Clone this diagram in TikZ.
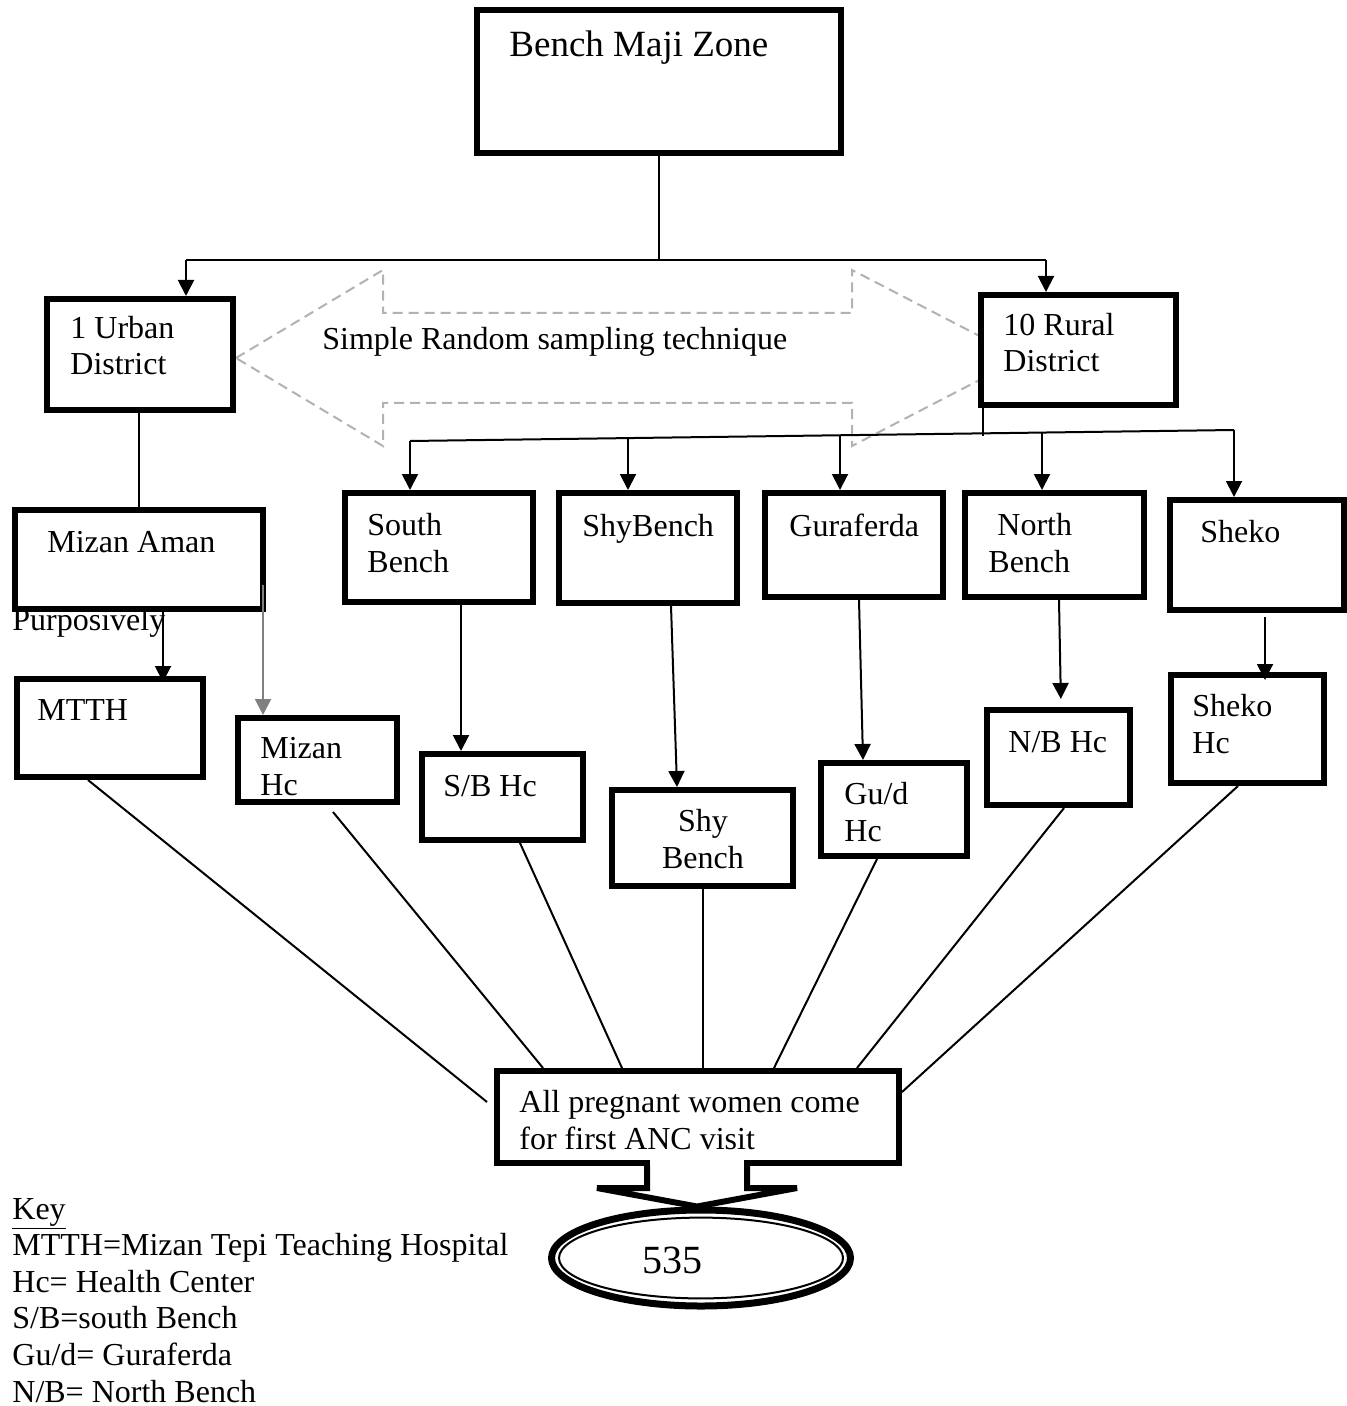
\documentclass[tikz,border=0pt]{standalone}
\usepackage{fontspec}
\setmainfont{Liberation Serif}
\usetikzlibrary{arrows.meta,shapes.geometric}
\newcommand\mybox[5]{\node[box,minimum width={(#4-#2)*0.5pt},minimum height={(#5-#3)*0.5pt}] (#1) at ({(#2+#4)/2},{(#3+#5)/2}) {};}
\begin{document}
\begin{tikzpicture}[x=0.5pt,y=-0.5pt,
  box/.style={draw,line width=3pt,fill=white,inner sep=0pt,rectangle},
  txt/.style={font=\fontsize{16}{18.3}\selectfont,inner sep=0pt,align=left,anchor=base west},
  conn/.style={line width=1pt},
  arr/.style={conn,-{Triangle[width=8pt,length=8pt]}},
  garr/.style={line width=1pt,draw=gray,-{Triangle[width=8pt,length=8pt,fill=gray]}},
  dasharrow/.style={draw=gray!60,line width=1pt,dash pattern=on 5pt off 3pt}
]
\useasboundingbox[fill=white] (0,0) rectangle (1347,1406);

% dashed double arrow (background)
\draw[dasharrow] (236,358) -- (383,270) -- (383,313) -- (852,313) -- (852,270) -- (1022,358)
  -- (852,446) -- (852,403) -- (383,403) -- (383,446) -- cycle;

% text partly hidden by the Mizan Aman box
\node[txt] (purpT) at (12,630) {Purposively};

% boxes
\mybox{zone}{477}{10}{841}{153}
\mybox{urban}{47}{299}{233}{410}
\mybox{rural}{981}{295}{1176}{405}
\mybox{mizan}{15}{510}{263}{609}
\mybox{south}{345}{493}{533}{602}
\mybox{shyb}{559}{493}{737}{603}
\mybox{gura}{765}{493}{943}{597}
\mybox{north}{965}{493}{1144}{597}
\mybox{sheko}{1170}{500}{1344}{610}
\mybox{mtth}{17}{679}{203}{777}
\mybox{mizhc}{238}{718}{397}{802}
\mybox{sbhc}{422}{754}{583}{840}
\mybox{shyhc}{612}{790}{793}{886}
\mybox{guhc}{821}{763}{967}{856}
\mybox{nbhc}{987}{710}{1130}{805}
\mybox{shekohc}{1171}{675}{1324}{783}
\mybox{all}{497}{1071}{899}{1163}

% ellipse 535
\node[ellipse,draw,line width=3.5pt,fill=white,inner sep=0pt,
      minimum width=149.5pt,minimum height=48pt] (e535) at (701,1258) {};
\draw[line width=1pt] (e535.center) ellipse [x radius=71pt, y radius=20.2pt];

% pointer from the ANC box to the ellipse
\fill[white] (650,1156) rectangle (744,1170);
\draw[line width=3pt,fill=white,line join=miter]
  (all.south -| 647,0) -- (647,1188) -- (597,1188) -- (e535.north -| 697,0) -- (797,1188) -- (747,1188) -- (all.south -| 747,0);

% texts (base anchor = baseline of the last line)
\node[txt,font=\fontsize{18.5}{21}\selectfont] (zoneT) at (509,57) {Bench Maji Zone};
\node[txt] (srsT) at (322,350) {Simple Random sampling technique};
\node[txt] (urbanT) at (70,375) {1 Urban\\District};
\node[txt] (ruralT) at (1003,372) {10 Rural\\District};
\node[txt] (mizanT) at (47,552) {Mizan Aman};
\node[txt] (southT) at (367,572) {South\\Bench};
\node[txt] (shybT) at (582,536) {ShyBench};
\node[txt] (guraT) at (789,536) {Guraferda};
\node[txt] (northT) at (988,572) {\hspace*{4.5pt}North\\Bench};
\node[txt] (shekoT) at (1200,542) {Sheko};
\node[txt] (mtthT) at (37,720) {MTTH};
\node[txt] (mizhcT) at (260,795) {Mizan\\Hc};
\node[txt] (sbhcT) at (443,796) {S/B Hc};
\node[txt,align=center,anchor=base] (shyhcT) at (703,868) {Shy\\Bench};
\node[txt] (guhcT) at (844,841) {Gu/d\\Hc};
\node[txt] (nbhcT) at (1008,752) {N/B Hc};
\node[txt] (shekohcT) at (1192,753) {Sheko\\Hc};
\node[txt] (allT) at (519,1149) {All pregnant women come\\for first ANC visit};
\node[font=\fontsize{20}{24}\selectfont,inner sep=0pt,anchor=base] (n535) at (672,1273) {535};
\node[txt] (keyT) at (12,1402) {\underline{Key}\\MTTH=Mizan Tepi Teaching Hospital\\Hc= Health Center\\S/B=south Bench\\Gu/d= Guraferda\\N/B= North Bench};

% top connectors
\coordinate (jL) at (186,260);
\coordinate (jR) at (1046,260);
\draw[conn] (zone.south) -- (zone.south |- jL);
\draw[conn] (jL) -- (jR);
\draw[arr] (jL) -- (jL |- urban.north);
\draw[arr] (jR) -- (jR |- rural.north);

% rural hub
\coordinate (hL) at (410,441);
\coordinate (hR) at (1234,430);
\draw[conn] (rural.south -| 983,0) -- (983,436.5);
\draw[conn] (hL) -- (hR);
\draw[arr] (hL) -- (hL |- south.north);
\draw[arr] (628,438.1) -- (shyb.north -| 628,0);
\draw[arr] (840,435.3) -- (gura.north -| 840,0);
\draw[arr] (1042,432.6) -- (north.north -| 1042,0);
\draw[arr] (hR) -- (hR |- sheko.north);

% urban side
\draw[conn] (urban.south -| 139,0) -- (mizan.north -| 139,0);
\draw[arr,shorten >=-3pt] (mizan.south -| 163,0) -- (mtth.north -| 163,0);
\draw[garr] (263,585) -- (mizhc.north -| 263,0);

% district to health center
\draw[arr] (south.south -| 461,0) -- (sbhc.north -| 461,0);
\draw[arr] (shyb.south -| 671,0) -- (shyhc.north -| 677,0);
\draw[arr] (gura.south -| 859,0) -- (guhc.north -| 863,0);
\draw[arr,shorten >=4pt] (north.south -| 1059,0) -- (nbhc.north -| 1061,0);
\draw[arr,shorten >=-4pt] (1265,617) -- (shekohc.north -| 1265,0);

% health centers to ANC box
\draw[conn] (mtth.south -| 88,0) -- (487,1102);
\draw[conn] (333,812) -- (all.north -| 543,0);
\draw[conn] (sbhc.south -| 520,0) -- (all.north -| 622,0);
\draw[conn] (shyhc.south) -- (shyhc.south |- all.north);
\draw[conn] (guhc.south -| 877,0) -- (all.north -| 774,0);
\draw[conn] (nbhc.south -| 1064,0) -- (all.north -| 857,0);
\draw[conn] (shekohc.south -| 1238,0) -- (all.east |- 0,1092);
\end{tikzpicture}
\end{document}
